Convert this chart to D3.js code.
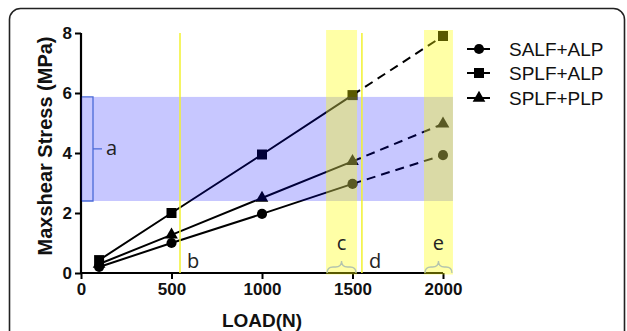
<!DOCTYPE html>
<html><head><meta charset="utf-8">
<script src="https://cdn.jsdelivr.net/npm/d3@7"></script>
<style>body{margin:0;background:#fff}svg{display:block}</style>
</head><body>
<svg id="c" width="627" height="331"></svg>
<script>
const loads = [100, 500, 1000, 1500, 2000];
const seriesNames = ["SALF+ALP", "SPLF+ALP", "SPLF+PLP"];
const salfAlp = [0.2, 1.0, 1.97, 2.97, 3.93];
const splfAlp = [0.43, 2.0, 3.95, 5.93, 7.9];
const splfPlp = [0.3, 1.27, 2.5, 3.72, 4.97];
const markers = ["circle", "square", "triangle"];
const xTicks = [0, 500, 1000, 1500, 2000];
const yTicks = [0, 2, 4, 6, 8];
const blueBand = [2.4, 5.87];      // stress range "a"
const bandXEnd = 2055;
const yellowBands = [[1354, 1525, "c"], [1895, 2055, "e"]];
const yellowLines = [[547, "b"], [1552, "d"]];

const svg = d3.select("#c");
const x = d3.scaleLinear().domain([0, 2000]).range([81, 443]);
const y = d3.scaleLinear().domain([0, 8]).range([273, 33]);

// outer rounded frame
svg.append("rect").attr("x", 9.5).attr("y", 8.5).attr("width", 615).attr("height", 400)
  .attr("rx", 11).attr("fill", "none").attr("stroke", "#222").attr("stroke-width", 1.6);

const allSeries = [salfAlp, splfAlp, splfPlp];
const sym = {circle: d3.symbol(d3.symbolCircle, 80), square: d3.symbol(d3.symbolSquare, 100), triangle: d3.symbol(d3.symbolTriangle, 70)};

// series lines
allSeries.forEach((vals, i) => {
  const pts = loads.map((l, j) => [x(l), y(vals[j])]);
  svg.append("path").attr("d", d3.line()(pts.slice(0, 4))).attr("fill", "none")
    .attr("stroke", "#000").attr("stroke-width", 2);
  svg.append("path").attr("d", d3.line()(pts.slice(3))).attr("fill", "none")
    .attr("stroke", "#000").attr("stroke-width", 2).attr("stroke-dasharray", "9,6");
  pts.forEach(p => {
    svg.append("path").attr("d", sym[markers[i]]()).attr("transform", `translate(${p[0]},${p[1]})`).attr("fill", "#000");
  });
});

// axes
const xAxis = d3.axisBottom(x).tickValues(xTicks).tickFormat(d3.format("d")).tickSize(6).tickPadding(4);
const gx = svg.append("g").attr("transform", `translate(0,${y(0)})`).call(xAxis);
const yAxis = d3.axisLeft(y).tickValues(yTicks).tickFormat(d3.format("d")).tickSize(6).tickPadding(3);
const gy = svg.append("g").attr("transform", `translate(${x(0)},0)`).call(yAxis);
[gx, gy].forEach(g => {
  g.select(".domain").attr("stroke", "#000").attr("stroke-width", 2.2);
  g.selectAll(".tick line").attr("stroke", "#000").attr("stroke-width", 2);
  g.selectAll("text").attr("font-family", "Liberation Sans, Arial, sans-serif")
    .attr("font-weight", "bold").attr("font-size", 17).attr("fill", "#111");
});
gx.select(".domain").attr("d", `M${x(0)},0H${x(2000)}`);
gy.select(".domain").attr("d", `M0,${y(0)}V${y(8)}`);

// overlays
svg.append("rect").attr("x", x(0)).attr("y", y(blueBand[1])).attr("width", x(bandXEnd) - x(0))
  .attr("height", y(blueBand[0]) - y(blueBand[1])).attr("fill", "rgb(0,0,255)").attr("fill-opacity", 0.22);
yellowBands.forEach(b => {
  svg.append("rect").attr("x", x(b[0])).attr("y", y(8.1)).attr("width", x(b[1]) - x(b[0]))
    .attr("height", y(-0.05) - y(8.1)).attr("fill", "rgb(255,255,0)").attr("fill-opacity", 0.35);
});
yellowLines.forEach(l => {
  svg.append("line").attr("x1", x(l[0])).attr("x2", x(l[0])).attr("y1", y(8)).attr("y2", y(0))
    .attr("stroke", "#f2f230").attr("stroke-width", 1.5);
});

const letterFont = "'Open Sans', 'DejaVu Sans', sans-serif";
// bracket a
const bx = 93;
svg.append("path").attr("d", `M${x(0) + 1},${y(blueBand[1])}H${bx}V${y(blueBand[0])}H${x(0) + 1}M${bx},${(y(blueBand[0]) + y(blueBand[1])) / 2}h9`)
  .attr("fill", "none").attr("stroke", "#4a6ad8").attr("stroke-width", 1.3);
svg.append("text").attr("x", 106).attr("y", (y(blueBand[0]) + y(blueBand[1])) / 2 + 6)
  .attr("font-family", letterFont).attr("font-size", 20).attr("fill", "#222").text("a");

// curly braces under c and e
yellowBands.forEach(b => {
  const x0 = x(b[0]) + 1, x1 = x(b[1]) - 1, xm = (x0 + x1) / 2, yb = 273, r = 6;
  const d = `M${x0},${yb} Q${x0},${yb - r} ${x0 + r},${yb - r} H${xm - r} Q${xm},${yb - r} ${xm},${yb - 2 * r}` +
            ` Q${xm},${yb - r} ${xm + r},${yb - r} H${x1 - r} Q${x1},${yb - r} ${x1},${yb}`;
  svg.append("path").attr("d", d).attr("fill", "none").attr("stroke", "#b4c4ae").attr("stroke-width", 1.3);
  svg.append("text").attr("x", xm).attr("y", 250).attr("text-anchor", "middle")
    .attr("font-family", letterFont).attr("font-size", 20).attr("fill", "#222").text(b[2]);
});
yellowLines.forEach(l => {
  svg.append("text").attr("x", x(l[0]) + 7).attr("y", 268)
    .attr("font-family", letterFont).attr("font-size", 20).attr("fill", "#222").text(l[1]);
});

// axis titles
svg.append("text").attr("x", x(1000)).attr("y", 327).attr("text-anchor", "middle")
  .attr("font-family", "Liberation Sans, Arial, sans-serif").attr("font-weight", "bold").attr("font-size", 19)
  .attr("fill", "#111").text("LOAD(N)");
svg.append("text").attr("transform", "translate(52,146) rotate(-90)").attr("text-anchor", "middle")
  .attr("font-family", "Liberation Sans, Arial, sans-serif").attr("font-weight", "bold").attr("font-size", 20)
  .attr("fill", "#111").text("Maxshear Stress (MPa)");

// legend
const legY = [49, 73, 98];
seriesNames.forEach((n, i) => {
  svg.append("line").attr("x1", 467).attr("x2", 490).attr("y1", legY[i]).attr("y2", legY[i])
    .attr("stroke", "#000").attr("stroke-width", 2);
  svg.append("path").attr("d", sym[markers[i]]()).attr("transform", `translate(479,${legY[i]})`).attr("fill", "#000");
  svg.append("text").attr("x", 509).attr("y", legY[i] + 7)
    .attr("font-family", "Liberation Sans, Arial, sans-serif").attr("font-size", 19).attr("fill", "#111").text(n);
});
</script>
</body></html>
